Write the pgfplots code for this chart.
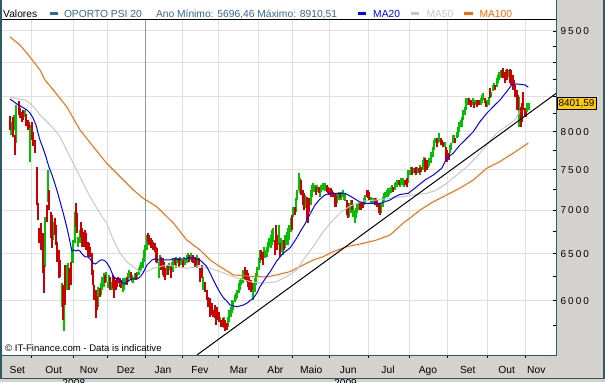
\documentclass[border=0pt]{standalone}
\usepackage{pgfplots}
\pgfplotsset{compat=1.18}
\usepackage{pgfplotstable}
\usepackage{fontspec}
\setmainfont{Liberation Sans}
\newfontfamily\tickfont[LetterSpace=20]{Liberation Sans}
\definecolor{bg}{RGB}{212,210,206}
\definecolor{frame}{RGB}{47,90,96}
\definecolor{legblue}{RGB}{51,102,153}
\definecolor{cgreen}{RGB}{0,192,0}
\definecolor{cred}{RGB}{204,0,0}
\definecolor{maf}{RGB}{200,200,200}
\definecolor{mah}{RGB}{255,102,0}
\definecolor{gridc}{RGB}{224,224,224}
\definecolor{janc}{RGB}{150,150,150}
\definecolor{labbox}{RGB}{255,204,0}

\pgfplotstableread{
x lo hi
9.5 8025 8219
12.5 7930 8205
14.7 7690 7957
18.5 8233 8432
20 8191 8331
21.5 8135 8275
23 8163 8303
26 8080 8247
27.5 8025 8163
29 8053 8135
31.7 7889 8135
33 7810 7998
34.5 7716 7889
36.5 7062 7534
38 6884 7086
39.3 6620 6791
40.7 6541 6849
42.5 6290 6733
44 6080 6376
46.7 6861 7062
49.3 7002 7245
50.7 6676 6978
52 6563 6943
54.7 6710 6908
56 6597 6826
57.3 6409 6631
58.7 6237 6541
60 6248 6431
62.7 5806 6163
65.3 5956 6376
69.3 6110 6343
70.7 6163 6409
75.7 6803 7086
77 6733 6967
81 6687 6861
82.3 6575 6791
83.7 6575 6745
85 6620 6768
86.3 6541 6733
87.7 6464 6631
89 6486 6620
90.3 6464 6575
91.7 6269 6508
93 6163 6322
94.3 6007 6163
95.7 5826 6110
97 5906 6049
99.7 6038 6131
105 6184 6269
110.3 6110 6248
113 6131 6269
114.3 6028 6248
115.7 6110 6216
117 6142 6237
118.3 6184 6248
119.7 6142 6237
121 6131 6216
126.7 6163 6248
130.7 6216 6301
136 6216 6290
148 6631 6733
149.3 6597 6710
150.7 6563 6676
152 6563 6654
153.3 6541 6631
154.7 6519 6620
156 6409 6575
157.3 6398 6563
161.3 6322 6464
162.7 6269 6453
164 6248 6409
165.3 6216 6343
168 6269 6376
170.7 6237 6376
174.7 6376 6453
178.7 6354 6453
182.7 6343 6431
189.3 6409 6486
192 6409 6464
193.3 6398 6486
194.7 6354 6464
196 6376 6453
198.7 6376 6453
200.3 6195 6343
201.7 6237 6376
205 6090 6195
206.7 6007 6110
208.3 5936 6038
210 5836 6028
211.5 5856 5977
213 5836 5906
214.5 5826 5956
216 5757 5836
217.3 5806 5936
218.7 5786 5886
221.3 5737 5806
222.7 5737 5826
225.3 5698 5806
226.7 5708 5776
245.3 6216 6354
246.7 6195 6322
248 6142 6290
249.3 6110 6248
250.7 6090 6216
252 6110 6184
261.3 6431 6541
262.7 6376 6519
274.7 6486 6654
276 6654 6826
277.3 6541 6710
280 6464 6620
284 6541 6654
292 6768 6943
294.7 6943 7038
301.3 7184 7370
302.7 7062 7245
304 7002 7208
306.7 6884 7160
308 6849 7123
309.3 6978 7147
316 7184 7282
318.7 7208 7282
326.7 7220 7307
328 7208 7282
329.3 7184 7270
330.7 7160 7270
332 7160 7245
333.3 7160 7220
334.7 7038 7208
336 7038 7184
340 7147 7208
346.7 6943 7123
348 6908 7086
352 7002 7123
360 7002 7098
361.3 7002 7086
362.7 7026 7098
366.7 7160 7245
368 7147 7245
369.3 7123 7220
374.7 7062 7147
377.3 7038 7123
378.7 6967 7086
380 6943 7062
393.3 7220 7282
398.7 7307 7370
405.3 7307 7370
406.7 7282 7395
412 7433 7534
414.7 7458 7521
416 7433 7534
418.7 7458 7521
421.3 7471 7534
425.3 7471 7651
426.7 7496 7625
436.7 7796 7916
440.7 7823 7916
442 7823 7889
443.3 7796 7862
446 7625 7796
447.3 7599 7756
448.7 7625 7716
455.3 7849 7916
468.7 8374 8475
471.3 8346 8446
474 8331 8417
476.7 8346 8446
479.3 8374 8446
484.7 8403 8475
486 8346 8417
490 8474 8621
495.3 8591 8665
502 8784 8889
503.3 8769 8919
504.7 8695 8859
507.3 8739 8910
510 8695 8910
511.3 8665 8889
512.7 8591 8814
514 8621 8739
515.3 8489 8665
516.7 8303 8591
518 8303 8518
520.7 8066 8346
522 8135 8403
523.3 8303 8562
524.7 8205 8331
526 8205 8275
}\redtab

\pgfplotstableread{
x lo hi
11 7957 8135
13.5 8025 8233
16.2 7849 8374
24.5 8205 8303
30.3 7599 8094
45.3 6354 6919
48 7098 7496
53.3 6654 6861
61.5 5936 6184
64 5696 5956
66.7 6110 6376
68 6184 6398
72 6398 6575
73.3 6398 6654
74.7 6620 6978
78.3 6575 6687
79.7 6620 6768
98.3 5936 6142
101 6059 6184
102.3 6110 6248
103.7 6142 6290
106.3 6195 6301
107.7 6131 6195
109 6195 6269
111.7 6110 6195
122.7 6090 6237
124 6110 6195
125.3 6163 6237
128 6195 6290
129.3 6237 6322
132 6195 6269
133.3 6184 6248
134.7 6216 6290
137.3 6237 6301
138.7 6269 6343
140 6301 6376
141.3 6322 6409
142.7 6343 6453
144 6409 6541
145.3 6464 6597
146.7 6541 6710
158.7 6237 6409
160 6376 6486
166.7 6269 6365
169.3 6322 6398
172 6343 6409
173.3 6301 6453
176 6343 6464
177.3 6398 6453
180 6376 6464
181.3 6376 6431
184 6398 6464
185.3 6376 6453
186.7 6398 6486
188 6409 6508
190.7 6431 6508
197.3 6343 6486
203.3 6110 6248
220 5786 5836
224 5728 5836
228 5737 5836
229.3 5786 5906
230.7 5836 5936
232 5876 6007
233.3 5906 5997
234.7 5987 6059
236 6007 6080
237.3 6028 6110
238.7 6080 6184
240 6110 6216
241.3 6163 6237
242.7 6184 6322
244 6216 6322
253.3 6007 6184
254.7 6090 6237
256 6163 6290
257.3 6248 6354
258.7 6322 6453
260 6398 6541
264 6464 6575
265.3 6453 6541
266.7 6464 6575
268 6519 6631
269.3 6575 6676
270.7 6563 6710
272 6597 6768
273.3 6631 6791
278.7 6597 6826
281.3 6519 6676
282.7 6486 6654
285.3 6563 6710
286.7 6597 6745
288 6597 6791
289.3 6654 6826
290.7 6745 6908
293.3 6919 7038
296 6978 7147
297.3 7123 7245
298.5 7245 7458
300 7208 7395
305.3 7026 7184
310.7 7062 7245
312 7160 7307
313.3 7220 7332
314.7 7220 7307
317.3 7220 7307
320 7160 7282
321.3 7220 7307
322.7 7245 7332
324 7245 7332
325.3 7233 7332
337.3 7086 7208
338.7 7123 7220
341.3 7123 7220
342.7 7160 7245
344 7123 7208
345.3 7110 7208
349.3 6919 7086
350.7 6967 7123
353.3 6919 7062
354.7 6849 7002
356 6908 7026
357.3 6967 7086
358.7 7002 7098
364 7062 7147
365.3 7086 7184
370.7 7086 7160
372 7086 7147
373.3 7086 7147
376 7062 7147
381.3 6967 7086
382.7 7038 7160
384 7110 7208
385.3 7147 7220
386.7 7160 7245
388 7160 7270
389.3 7184 7270
390.7 7208 7282
392 7233 7307
394.7 7245 7332
396 7282 7345
397.3 7282 7370
400 7282 7370
401.3 7307 7395
402.7 7307 7395
404 7282 7370
408 7332 7496
409.3 7433 7496
410.7 7433 7534
413.3 7458 7521
417.3 7458 7534
420 7433 7560
422.7 7496 7625
424 7586 7664
428 7522 7625
429.3 7547 7651
431.3 7586 7730
432.7 7664 7796
434 7756 7889
435.3 7849 7916
438 7849 7916
439.3 7862 7984
444.7 7796 7862
450 7716 7823
451.3 7756 7849
452.7 7849 7957
454 7862 7957
456.7 7916 7998
458 7930 8066
459.3 7998 8135
460.7 8066 8163
462 8066 8205
463.3 8163 8303
464.7 8233 8346
466 8303 8475
467.3 8374 8475
470 8374 8446
472.7 8374 8475
475.3 8374 8446
478 8374 8446
480.7 8374 8475
482 8403 8518
483.3 8446 8547
487.3 8346 8446
488.7 8374 8489
491.3 8489 8562
492.7 8577 8665
494 8591 8695
496.7 8636 8769
498 8695 8814
499.3 8739 8859
500.7 8769 8889
506 8784 8889
508.7 8784 8889
519.3 8066 8489
527.3 8275 8403
528.7 8303 8403
}\greentab

\pgfplotstableread{
x y
10 8460
17 8388
22 8346
27 8303
30 8261
33 8191
36 8094
38 7984
40 7889
43 7783
46 7664
49 7534
52 7433
55 7320
58 7196
61 7062
64 6931
67 6791
69 6687
71 6575
72 6530
74 6541
76 6530
78 6541
80 6530
82 6497
84 6475
86 6464
88 6464
90 6442
93 6398
95 6387
97 6398
99 6420
101 6431
103 6431
105 6420
107 6398
110 6343
112 6290
114 6248
116 6227
118 6227
120 6216
122 6195
124 6174
126 6184
128 6205
130 6216
133 6227
137 6227
139 6237
141 6258
143 6290
145 6333
147 6376
149 6398
152 6431
155 6442
158 6431
170 6431
173 6442
176 6442
179 6431
182 6442
185 6442
188 6453
194 6453
197 6440
200 6430
203 6400
206.7 6358
210 6290
213.3 6216
216.7 6145
220 6083
223.3 6031
226.7 5997
230 5956
233.3 5946
236.7 5939
240 5946
243.3 5956
246.7 5973
250 6000
253.3 6025
256.7 6076
260 6145
263.3 6198
266.7 6253
270 6301
276.7 6420
283.3 6508
290 6563
296.7 6676
300 6745
305 6838
310 6955
315 7062
320 7135
325 7184
330 7204
345 7204
350 7172
355 7135
360 7098
365 7082
380 7082
385 7102
390 7123
395 7163
400 7190
408.3 7204
416.7 7287
425 7370
433.3 7433
441.7 7518
446.7 7647
453.3 7716
460 7823
466.7 7912
473.3 8002
480 8140
486.7 8256
493.3 8351
500 8446
506.7 8567
511.7 8665
516.7 8680
525 8665
528.3 8631
}\matwenty

\pgfplotstableread{
x y
10 8489
20 8456
25 8446
30 8398
35 8327
40 8233
46.7 8140
53.3 8048
60 7934
66.7 7756
73.3 7582
80 7412
90 7163
100 6963
106.7 6845
113.3 6654
120 6508
126.7 6412
133.3 6358
140 6304
146.7 6304
153.3 6340
160 6358
166.7 6376
176.7 6358
186.7 6340
200 6360
210 6340
220 6304
233.3 6251
250 6198
263.3 6181
276.7 6198
286.7 6251
296.7 6322
303.3 6431
313.3 6578
323.3 6749
330 6845
340 6967
350 7050
363.3 7111
376.7 7123
390 7143
403.3 7163
413.3 7184
426.7 7204
436.7 7245
446.7 7328
456.7 7433
466.7 7538
476.7 7664
486.7 7823
496.7 7984
506.7 8080
515 8163
520 8290
}\mafifty

\pgfplotstableread{
x y
10 9403
20 9275
30 9088
40 8889
45 8739
53.3 8591
66.7 8350
80 8025
93.3 7801
106.7 7582
120 7412
133.3 7245
143.3 7143
156.7 7042
173.3 6849
186.7 6654
200 6541
210 6431
220 6358
233.3 6269
246.7 6258
256.7 6251
266.7 6248
276.7 6269
290 6304
300 6358
313.3 6431
323.3 6468
333.3 6523
346.7 6578
363.3 6616
376.7 6654
390 6710
403.3 6849
410 6907
420 7002
433.3 7102
446.7 7184
460 7270
473.3 7370
486.7 7518
500 7606
513.3 7716
528.3 7849
}\mahundred

\begin{document}
\begin{tikzpicture}[x=1bp,y=1bp]
\useasboundingbox (0,0) rectangle (605,382);
\fill[bg] (0,0) rectangle (605,382);
\fill[white] (2,362) rectangle (556,382);

\begin{axis}[
  at={(2bp,27bp)}, anchor=south west, scale only axis,
  width=554bp, height=335bp,
  xmin=2, xmax=556, ymode=log, ymin=5470, ymax=9680,
  axis background/.style={fill=white},
  axis line style={draw=none},
  xtick={31.7,73.4,107,182.8,218.4,258,292.6,329.3,368,409,447,487.5,525},
  xticklabels={{},{},{},{},{},{},{},{},{},{},{},{},{}},
  extra x ticks={145}, extra x tick labels={{}},
  extra x tick style={major grid style={draw=janc, line width=1bp}},
  xmajorgrids, ymajorgrids,
  major grid style={draw=gridc, line width=1bp},
  ytick={6000,6500,7000,7500,8000,8500,9000,9500},
  yticklabels={6000,6500,7000,7500,8000,{},{},9500},
  minor ytick={5750,6250,6750,7250,7750,8250,8750,9250},
  ytick pos=right, yticklabel pos=right, xtick pos=bottom,
  tick align=outside,
  major tick length=3bp, minor tick length=3bp,
  tick style={black, line width=0.8bp},
  y tick style={xshift=-3bp},
  yticklabel style={font=\fontsize{10}{12}\tickfont, anchor=west, inner sep=0pt, xshift=1.5bp},
  clip=true,
]
\addplot[draw=none, mark=none, forget plot,
  error bars/.cd, y dir=plus, y explicit, error mark=none,
  error bar style={draw=cgreen, line width=2bp}]
  table[x=x, y=lo, y error expr=\thisrow{hi}-\thisrow{lo}] {\greentab};
\addplot[draw=none, mark=none, forget plot,
  error bars/.cd, y dir=plus, y explicit, error mark=none,
  error bar style={draw=cred, line width=2bp}]
  table[x=x, y=lo, y error expr=\thisrow{hi}-\thisrow{lo}] {\redtab};
\addplot[mah, line width=1bp, mark=none] table[x=x,y=y] {\mahundred};
\addplot[maf, line width=1bp, mark=none] table[x=x,y=y] {\mafifty};
\addplot[blue, line width=1bp, mark=none] table[x=x,y=y] {\matwenty};
\addplot[black, line width=1bp, mark=none] coordinates {(197,5470) (556,8540)};
\end{axis}

% frame lines
\draw[black, line width=1bp] (2,362.3) -- (556,362.3);
\fill[frame] (0,3) rectangle (2,382);
\fill[frame] (555.8,26) rectangle (557.3,382);
\fill[frame] (0,26) rectangle (557.3,27.5);
\fill[frame] (603,3) rectangle (605,382);

% value box
\node[draw=black, fill=labbox, line width=0.6bp, anchor=west, inner xsep=1.5bp, inner ysep=2bp,
  font=\fontsize{10}{12}\selectfont] at (556.7,278.5) {8401,59};

% legend strip
\begin{scope}[every node/.style={anchor=base west, inner sep=0pt, font=\fontsize{10.3}{12}\selectfont}]
\node at (3,364.6) {Valores};
\fill[legblue] (49.5,366.5) rectangle (58,370.4);
\node[text=legblue] at (63.8,364.6) {OPORTO PSI 20};
\node[text=legblue] at (155.8,364.6) {Ano Mínimo: 5696,46 Máximo: 8910,51};
\fill[blue] (357.6,366.5) rectangle (366,370.4);
\node[text=blue] at (373,364.6) {MA20};
\fill[maf] (410.5,366.5) rectangle (419.4,370.4);
\node[text=maf] at (426.4,364.6) {MA50};
\fill[mah] (463.9,366.5) rectangle (472.7,370.4);
\node[text=mah] at (479.3,364.6) {MA100};
\end{scope}

% copyright
\node[anchor=base west, inner sep=0pt, font=\fontsize{9.6}{11}\selectfont] at (5,31) {© IT-Finance.com - Data is indicative};

% month labels
\begin{scope}[every node/.style={anchor=base, inner sep=0pt, font=\fontsize{10.3}{12}\selectfont}]
\node at (17.4,8.7) {Set};
\node at (53.7,8.7) {Out};
\node at (89,8.7) {Nov};
\node at (126,8.7) {Dez};
\node at (163,8.7) {Jan};
\node at (200,8.7) {Fev};
\node at (238.7,8.7) {Mar};
\node at (275.4,8.7) {Abr};
\node at (311.2,8.7) {Maio};
\node at (348.2,8.7) {Jun};
\node at (388,8.7) {Jul};
\node at (428,8.7) {Ago};
\node at (467.7,8.7) {Set};
\node at (506.6,8.7) {Out};
\node at (536.3,8.7) {Nov};
\end{scope}
\node[anchor=north, inner sep=0pt, font=\fontsize{10.3}{12}\selectfont] at (73.8,3) {2008};
\node[anchor=north, inner sep=0pt, font=\fontsize{10.3}{12}\selectfont] at (345.5,3) {2009};
\fill[frame] (0,3) rectangle (605,4.5);
\end{tikzpicture}
\end{document}
